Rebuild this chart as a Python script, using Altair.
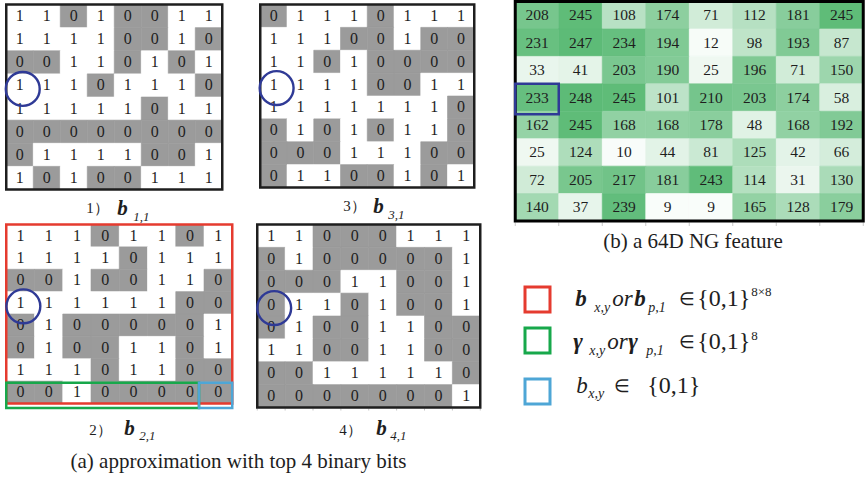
import altair as alt
import pandas as pd

SERIF = "Liberation Serif"
INK = "#1e1e1e"
GRAY = "#9b9b9b"
BLUE = "#2f3a96"
RED = "#e53b2f"
GREEN = "#17a84b"
CYAN = "#4ea6d6"

# 8x8 NG feature (gray levels 0..255)
ng_values = [
    [208, 245, 108, 174, 71, 112, 181, 245],
    [231, 247, 234, 194, 12, 98, 193, 87],
    [33, 41, 203, 190, 25, 196, 71, 150],
    [233, 248, 245, 101, 210, 203, 174, 58],
    [162, 245, 168, 168, 178, 48, 168, 192],
    [25, 124, 10, 44, 81, 125, 42, 66],
    [72, 205, 217, 181, 243, 114, 31, 130],
    [140, 37, 239, 9, 9, 165, 128, 179],
]

# the four most significant bit planes of the feature
bits_b1 = ["11010011", "11110010", "00110101", "11101110",
           "11111011", "00000000", "01111001", "10100111"]
bits_b2 = ["11101101", "11110111", "00100110", "11111100",
           "01000001", "01001101", "11101100", "00100000"]
bits_b3 = ["01110111", "11100100", "11010000", "11110011",
           "11111110", "01010110", "00011100", "01100101"]
bits_b4 = ["11000111", "01000001", "00011001", "01101001",
           "01001100", "11001100", "00111110", "00000001"]

focus = (3, 0)  # (row, col) of the traced pixel

one = pd.DataFrame({"k": [0]})
focus_df = pd.DataFrame([{"row": focus[0], "col": focus[1]}])
bounds_df = pd.DataFrame({"b": list(range(9))})


class Panel:
    """Screen box of one 8x8 panel; its x/y scales map cell indices into it."""

    def __init__(self, x0, y0, w, h):
        self.x0, self.y0, self.w, self.h = x0, y0, w, h

    def xs(self):
        return alt.Scale(domain=[0, 8], range=[self.x0, self.x0 + self.w], nice=False, zero=False)

    def ys(self):
        return alt.Scale(domain=[0, 8], range=[self.y0, self.y0 + self.h], nice=False, zero=False)

    def X(self, field):
        return alt.X(f"{field}:Q", scale=self.xs(), axis=None)

    def Y(self, field):
        return alt.Y(f"{field}:Q", scale=self.ys(), axis=None)


def to_cells(rows):
    recs = []
    for r, row in enumerate(rows):
        for c, v in enumerate(row):
            recs.append({"row": r, "col": c, "v": int(v)})
    return pd.DataFrame(recs)


def geom(chart):
    return chart.transform_calculate(
        c1="datum.col + 1", r1="datum.row + 1",
        cx="datum.col + 0.5", cy="datum.row + 0.5")


def label(text, x, y, size, style="normal", weight="normal", align="left"):
    return alt.Chart(one).mark_text(
        text=text, font=SERIF, fontSize=size, fontStyle=style, fontWeight=weight,
        align=align, baseline="alphabetic", color=INK,
    ).encode(x=alt.value(x), y=alt.value(y))


def frame(p, color, width, c0=0, c1=8, r0=0, r1=8, **offsets):
    return alt.Chart(one).mark_rect(filled=False, color=color, strokeWidth=width, **offsets).encode(
        x=alt.XDatum(c0, type="quantitative", scale=p.xs(), axis=None),
        x2=alt.X2Datum(c1),
        y=alt.YDatum(r0, type="quantitative", scale=p.ys(), axis=None),
        y2=alt.Y2Datum(r1),
    )


def bit_panel(rows, plane, p, cap, frame_color=INK, extra=(), ticks=False):
    df = to_cells([[int(ch) for ch in row] for row in rows])
    shade = alt.condition("datum.v == 0", alt.value(GRAY), alt.value("#ffffff"))
    cells = geom(alt.Chart(df)).mark_rect(strokeWidth=0.6).encode(
        x=p.X("col"), x2="c1:Q", y=p.Y("row"), y2="r1:Q", fill=shade, stroke=shade)
    digits = geom(alt.Chart(df)).mark_text(
        font=SERIF, fontSize=16, color=INK, baseline="middle").encode(
        x=p.X("cx"), y=p.Y("cy"), text="v:N")
    ring = geom(alt.Chart(focus_df)).mark_point(
        shape="circle", size=1150, filled=False, color=BLUE, strokeWidth=2.4,
        opacity=1, xOffset=3, yOffset=3.5).encode(x=p.X("cx"), y=p.Y("cy"))
    layers = [cells, digits]
    if ticks:
        layers.append(alt.Chart(bounds_df).mark_rule(color="#c4c4c4", strokeWidth=1).encode(
            x=p.X("b"), y=alt.value(p.y0 + p.h + 1), y2=alt.value(p.y0 + p.h + 3)))
    layers += [frame(p, frame_color, 2.5), *extra, ring]
    (px, bx, sx), (py, by, sy) = cap
    layers += [
        label(f"{plane}）", p.x0 + px, p.y0 + py, 15),
        label("b", p.x0 + bx, p.y0 + by, 21, "italic", "bold"),
        label(f"{plane},1", p.x0 + sx, p.y0 + sy, 13, "italic"),
    ]
    return alt.layer(*layers)


P1 = Panel(6.25, 4.5, 216, 185)
P3 = Panel(260.25, 4.5, 214, 183)
P2 = Panel(6.25, 224.5, 226, 179)
P4 = Panel(257.25, 224.5, 223, 183)
PN = Panel(515.25, 1.5, 348, 219.5)

g1 = bit_panel(bits_b1, 1, P1, ((80, 111, 127), (208.5, 210.5, 216.5)))
g3 = bit_panel(bits_b3, 3, P3, ((83, 113, 128), (206.5, 208.5, 214.5)))
g2 = bit_panel(
    bits_b2, 2, P2, ((83, 118, 133), (210.5, 210.5, 215.5)), frame_color=RED,
    extra=(
        frame(P2, GREEN, 2.5, 0, 7, 7, 8, yOffset=1.5, x2Offset=-5, y2Offset=4.5),
        frame(P2, CYAN, 2.5, 7, 8, 7, 8, xOffset=-5, yOffset=1.5, y2Offset=4.5),
    ),
)
g4 = bit_panel(bits_b4, 4, P4, ((82, 119, 133), (210.5, 210.5, 215.5)), ticks=True)

caption_a = label("(a) approximation with top 4 binary bits", 238.5, 468, 21, align="center")

# NG feature panel with its legend
ng_df = to_cells(ng_values)
green_scale = alt.Scale(domain=[0, 255], range=["#ffffff", "#58b973"], interpolate="rgb")
ng_cells = geom(alt.Chart(ng_df)).mark_rect(strokeWidth=0.6).encode(
    x=PN.X("col"), x2="c1:Q", y=PN.Y("row"), y2="r1:Q",
    fill=alt.Fill("v:Q", scale=green_scale, legend=None),
    stroke=alt.Stroke("v:Q", scale=green_scale, legend=None))
ng_digits = geom(alt.Chart(ng_df)).mark_text(
    font=SERIF, fontSize=15.5, color=INK, baseline="middle").encode(
    x=PN.X("cx"), y=PN.Y("cy"), text="v:N")
ng_ticks = alt.Chart(bounds_df).mark_rule(color="#c8c8c8", strokeWidth=1).encode(
    x=PN.X("b"), y=alt.value(PN.y0 + PN.h + 1.5), y2=alt.value(PN.y0 + PN.h + 5))
ng_focus = geom(alt.Chart(focus_df)).mark_rect(
    filled=False, color=BLUE, strokeWidth=2.5, y2Offset=3).encode(
    x=PN.X("col"), x2="c1:Q", y=PN.Y("row"), y2="r1:Q")
caption_b = label("(b)  a 64D NG feature", 693, 248, 21, align="center")

# legend of the three highlight boxes
lx = 515.25
legend_layers = []
for color, (top, bottom) in [(RED, (287, 312)), (GREEN, (328, 353)), (CYAN, (379, 404))]:
    legend_layers.append(alt.Chart(one).mark_rect(filled=False, color=color, strokeWidth=3).encode(
        x=alt.value(lx + 9.75), x2=alt.value(lx + 34.75), y=alt.value(top), y2=alt.value(bottom)))

legend_layers += [
    label("b", lx + 60, 306, 23, "italic", "bold"),
    label("x,y", lx + 79, 312, 14, "italic"),
    label("or", lx + 97, 306, 23, "italic"),
    label("b", lx + 119, 306, 23, "italic", "bold"),
    label("p,1", lx + 133, 312, 14, "italic"),
    label("∈", lx + 164, 305, 18),
    label("{0,1}", lx + 182, 306, 24),
    label("8×8", lx + 236, 296, 13),

    label("γ", lx + 58, 349, 23, "italic", "bold"),
    label("x,y", lx + 74, 355, 14, "italic"),
    label("or", lx + 92, 349, 23, "italic"),
    label("γ", lx + 113, 349, 23, "italic", "bold"),
    label("p,1", lx + 131, 355, 14, "italic"),
    label("∈", lx + 164, 348, 18),
    label("{0,1}", lx + 182, 349, 24),
    label("8", lx + 236, 340, 13),

    label("b", lx + 61, 393, 23, "italic"),
    label("x,y", lx + 73, 398, 14, "italic"),
    label("∈", lx + 99, 392, 18),
    label("{0,1}", lx + 132, 393, 24),
]

ng = alt.layer(ng_cells, ng_digits, ng_ticks, frame(PN, "#000000", 3), ng_focus)

chart = alt.layer(
    g1, g3, g2, g4, caption_a, ng, caption_b, *legend_layers
).resolve_scale(
    x="independent", y="independent"
).properties(
    width=865, height=478,
    autosize=alt.AutoSizeParams(type="none"),
    padding=0,
    background="#ffffff",
).configure_view(stroke=None)

chart.save("out.html", embed_options={"renderer": "svg", "actions": False})
